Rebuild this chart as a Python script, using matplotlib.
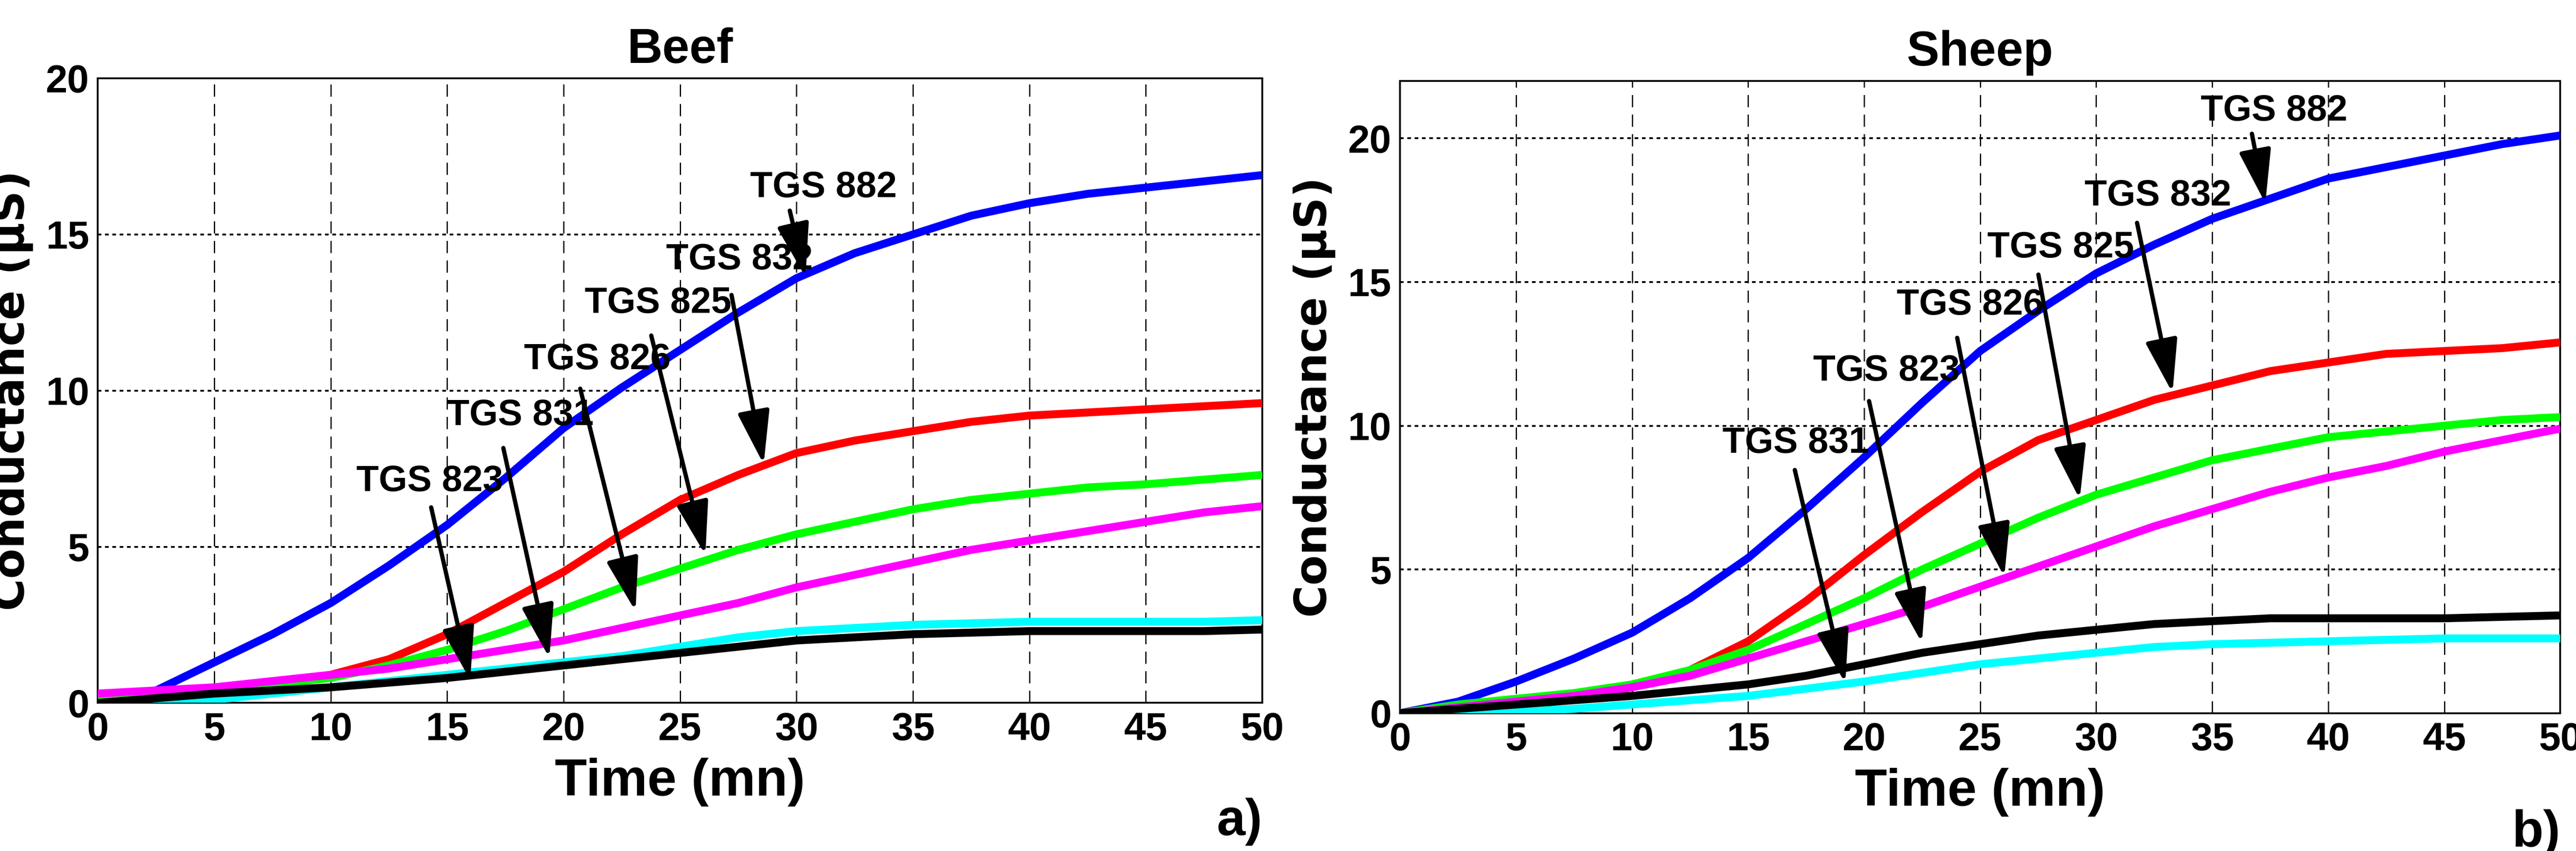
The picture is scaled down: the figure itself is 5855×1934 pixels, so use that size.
import matplotlib
matplotlib.use("Agg")
import matplotlib.pyplot as plt

# ---------------- data ----------------
time_pts = [0, 2.5, 5, 7.5, 10, 12.5, 15, 17.5, 20, 22.5, 25, 27.5, 30,
            32.5, 35, 37.5, 40, 42.5, 45, 47.5, 50]

beef_tgs882 = [0, 0.4, 1.3, 2.2, 3.2, 4.4, 5.7, 7.2, 8.8, 10.1, 11.3, 12.5, 13.6, 14.4, 15.0, 15.6, 16.0, 16.3, 16.5, 16.7, 16.9]
beef_tgs832 = [0.1, 0.2, 0.4, 0.6, 0.9, 1.4, 2.2, 3.2, 4.2, 5.4, 6.5, 7.3, 8.0, 8.4, 8.7, 9.0, 9.2, 9.3, 9.4, 9.5, 9.6]
beef_tgs825 = [0.2, 0.3, 0.4, 0.6, 0.8, 1.2, 1.7, 2.3, 3.0, 3.7, 4.3, 4.9, 5.4, 5.8, 6.2, 6.5, 6.7, 6.9, 7.0, 7.15, 7.3]
beef_tgs826 = [0.3, 0.4, 0.5, 0.7, 0.9, 1.1, 1.4, 1.7, 2.0, 2.4, 2.8, 3.2, 3.7, 4.1, 4.5, 4.9, 5.2, 5.5, 5.8, 6.1, 6.3]
beef_tgs823 = [0, 0, 0.1, 0.3, 0.5, 0.7, 0.9, 1.1, 1.3, 1.5, 1.8, 2.1, 2.3, 2.4, 2.5, 2.55, 2.6, 2.6, 2.6, 2.6, 2.65]
beef_tgs831 = [0, 0.15, 0.3, 0.4, 0.5, 0.65, 0.8, 1.0, 1.2, 1.4, 1.6, 1.8, 2.0, 2.1, 2.2, 2.25, 2.3, 2.3, 2.3, 2.3, 2.35]

sheep_tgs882 = [0, 0.4, 1.1, 1.9, 2.8, 4.0, 5.4, 7.1, 8.9, 10.8, 12.6, 14.0, 15.3, 16.3, 17.2, 17.9, 18.6, 19.0, 19.4, 19.8, 20.1]
sheep_tgs832 = [0, 0.05, 0.2, 0.5, 0.9, 1.5, 2.5, 3.9, 5.5, 7.0, 8.4, 9.5, 10.2, 10.9, 11.4, 11.9, 12.2, 12.5, 12.6, 12.7, 12.9]
sheep_tgs825 = [0, 0.3, 0.5, 0.7, 1.0, 1.5, 2.2, 3.1, 4.0, 5.0, 5.9, 6.8, 7.6, 8.2, 8.8, 9.2, 9.6, 9.8, 10.0, 10.2, 10.3]
sheep_tgs826 = [0, 0.2, 0.4, 0.6, 0.9, 1.3, 1.9, 2.5, 3.1, 3.7, 4.4, 5.1, 5.8, 6.5, 7.1, 7.7, 8.2, 8.6, 9.1, 9.5, 9.9]
sheep_tgs831 = [0, 0.15, 0.3, 0.45, 0.6, 0.8, 1.0, 1.3, 1.7, 2.1, 2.4, 2.7, 2.9, 3.1, 3.2, 3.3, 3.3, 3.3, 3.3, 3.35, 3.4]
sheep_tgs823 = [0, 0, 0.05, 0.15, 0.3, 0.45, 0.6, 0.85, 1.1, 1.4, 1.7, 1.9, 2.1, 2.3, 2.4, 2.45, 2.5, 2.55, 2.6, 2.6, 2.6]

x_ticks = [0, 5, 10, 15, 20, 25, 30, 35, 40, 45, 50]
beef_yticks = [0, 5, 10, 15, 20]
sheep_yticks = [0, 5, 10, 15, 20]

# label text position, arrow start, arrow tip
beef_notes = [
    ("TGS 882", (28.0, 16.5), (29.7, 15.8), (30.4, 13.6)),
    ("TGS 832", (24.4, 14.2), (27.2, 13.1), (28.6, 7.6)),
    ("TGS 825", (20.9, 12.8), (23.75, 11.8), (26.1, 4.7)),
    ("TGS 826", (18.3, 11.0), (20.7, 10.1), (23.1, 2.9)),
    ("TGS 831", (15.0, 9.2), (17.4, 8.2), (19.4, 1.4)),
    ("TGS 823", (11.1, 7.1), (14.3, 6.3), (16.0, 0.7)),
]
sheep_notes = [
    ("TGS 882", (34.5, 20.95), (36.7, 20.2), (37.3, 17.7)),
    ("TGS 832", (29.5, 18.0), (31.75, 17.1), (33.3, 11.1)),
    ("TGS 825", (25.3, 16.2), (27.5, 15.3), (29.3, 7.4)),
    ("TGS 826", (21.4, 14.2), (24.0, 13.1), (26.05, 4.7)),
    ("TGS 823", (17.8, 11.9), (20.2, 10.9), (22.5, 2.4)),
    ("TGS 831", (13.9, 9.4), (17.0, 8.5), (19.2, 1.0)),
]

NARROW = ["Liberation Sans Narrow", "Liberation Sans", "DejaVu Sans"]

fig = plt.figure(figsize=(58.55, 19.34), dpi=100)

def panel(rect, title, series, ylim, yticks, notes, tag):
    ax = fig.add_axes(rect)
    for vals, c in series:
        ax.plot(time_pts, vals, color=c, lw=13, solid_capstyle="butt", zorder=3)
    ax.set_xlim(0, 50)
    ax.set_ylim(*ylim)
    ax.set_xticks(x_ticks)
    ax.set_yticks(yticks)
    for x in x_ticks[1:-1]:
        ax.axvline(x, color="black", lw=2, ls=(0, (10, 6)), zorder=1)
    for y in yticks[1:]:
        if y < ylim[1]:
            ax.axhline(y, color="black", lw=3, ls=(0, (2, 2)), zorder=1)
    for s in ax.spines.values():
        s.set_linewidth(3)
    ax.tick_params(direction="in", length=0, pad=14)
    for lab in ax.get_xticklabels() + ax.get_yticklabels():
        lab.set_fontfamily(NARROW)
        lab.set_fontweight("bold")
        lab.set_fontsize(64)
    ax.set_title(title, fontfamily=NARROW, fontweight="bold", fontsize=80, pad=25)
    ax.set_xlabel("Time (mn)", fontfamily=NARROW, fontweight="bold", fontsize=86, labelpad=15)
    ax.set_ylabel("Conductance (µS)", fontfamily="DejaVu Sans", fontweight="bold",
                  fontsize=72, labelpad=20)
    for txt, tpos, start, tip in notes:
        ax.text(tpos[0], tpos[1], txt, fontfamily=NARROW, fontweight="bold",
                fontsize=60, va="center", ha="left", zorder=5)
        ax.annotate("", xy=tip, xytext=start,
                    arrowprops=dict(arrowstyle="-|>,head_length=1.0,head_width=0.3",
                                    color="black", lw=7, mutation_scale=75), zorder=6)
    ax.text(1.0, -0.19, tag, transform=ax.transAxes, fontfamily=NARROW,
            fontweight="bold", fontsize=84, ha="right", va="center")
    return ax

panel([0.038, 0.174, 0.452, 0.734], "Beef",
      [(beef_tgs882, "#0000ff"), (beef_tgs832, "#ff0000"),
       (beef_tgs825, "#00ff00"), (beef_tgs826, "#ff00ff"),
       (beef_tgs823, "#00ffff"), (beef_tgs831, "#000000")],
      (0, 20), beef_yticks, beef_notes, "a)")

panel([0.5435, 0.162, 0.4504, 0.743], "Sheep",
      [(sheep_tgs882, "#0000ff"), (sheep_tgs832, "#ff0000"),
       (sheep_tgs825, "#00ff00"), (sheep_tgs826, "#ff00ff"),
       (sheep_tgs823, "#00ffff"), (sheep_tgs831, "#000000")],
      (0, 22), sheep_yticks, sheep_notes, "b)")

fig.savefig("out.png", dpi=100, facecolor="white")
